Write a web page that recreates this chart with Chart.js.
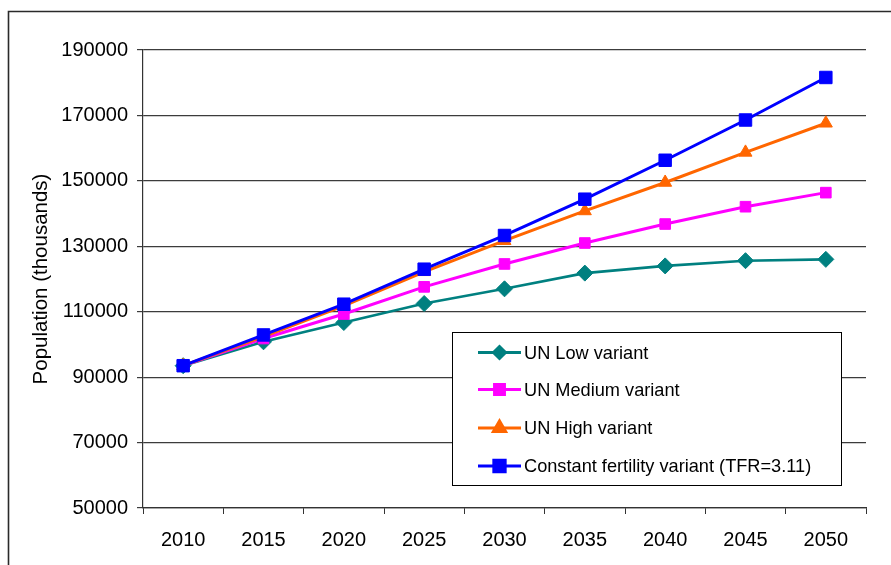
<!DOCTYPE html>
<html>
<head>
<meta charset="utf-8">
<title>Population projections</title>
<script src="https://cdn.jsdelivr.net/npm/chart.js@4/dist/chart.umd.min.js"></script>
<style>
  html, body { margin: 0; padding: 0; background: #fff; }
  #wrap { width: 891px; height: 565px; position: relative; }
</style>
</head>
<body>
<div id="wrap"><canvas id="chart" width="891" height="565"></canvas></div>
<script>
// Projection years (categories)
const years = ['2010', '2015', '2020', '2025', '2030', '2035', '2040', '2045', '2050'];

// Population in thousands, per variant
const unLow = [93500, 100800, 106700, 112500, 117000, 121800, 124000, 125600, 126000];
const unMedium = [93500, 101800, 109300, 117600, 124600, 131000, 136800, 142100, 146400];
const unHigh = [93500, 102400, 111800, 122200, 131700, 140800, 149500, 158700, 167600];
const constantFertility = [93500, 102900, 112300, 123000, 133300, 144400, 156300, 168600, 181600];

// Series names
const seriesNames = ['UN Low variant', 'UN Medium variant', 'UN High variant', 'Constant fertility variant (TFR=3.11)'];

// Value axis
const yMin = 50000;
const yMax = 190000;
const yStep = 20000;

const FONT = "'Liberation Sans', Arial, Helvetica, sans-serif";

// White page with a thin frame along the top and left edges
const framePlugin = {
  id: 'frame',
  beforeDraw(chart) {
    const ctx = chart.ctx;
    ctx.save();
    ctx.fillStyle = '#ffffff';
    ctx.fillRect(0, 0, chart.width, chart.height);
    ctx.strokeStyle = '#2a2a2a';
    ctx.lineWidth = 1.6;
    ctx.beginPath();
    ctx.moveTo(8.5, chart.height + 2);
    ctx.lineTo(8.5, 11.5);
    ctx.lineTo(chart.width + 2, 11.5);
    ctx.stroke();
    ctx.restore();
  }
};

// Boxed legend drawn inside the plot area, lower right
const boxLegendPlugin = {
  id: 'boxLegend',
  afterDraw(chart) {
    const ctx = chart.ctx;
    const box = { x: 452.5, y: 332.5, w: 389, h: 153 };
    ctx.save();
    ctx.fillStyle = '#ffffff';
    ctx.fillRect(box.x, box.y, box.w, box.h);
    ctx.strokeStyle = '#000000';
    ctx.lineWidth = 1;
    ctx.strokeRect(box.x, box.y, box.w, box.h);

    const rowY = [352.5, 389.5, 428, 466];
    const lineX0 = 478, lineX1 = 521, textX = 524;
    ctx.font = '18.2px ' + FONT;
    ctx.textBaseline = 'middle';
    ctx.textAlign = 'left';
    chart.data.datasets.forEach((ds, i) => {
      const y = rowY[i];
      ctx.strokeStyle = ds.borderColor;
      ctx.lineWidth = 3;
      ctx.beginPath();
      ctx.moveTo(lineX0, y);
      ctx.lineTo(lineX1, y);
      ctx.stroke();
      Chart.helpers.drawPoint(ctx, {
        pointStyle: ds.pointStyle,
        radius: ds.legendRadius,
        borderWidth: 1,
        rotation: 0
      }, (lineX0 + lineX1) / 2, y);
      ctx.fillStyle = ds.pointBackgroundColor;
      ctx.strokeStyle = ds.pointBorderColor;
      ctx.lineWidth = 1;
      ctx.fill();
      ctx.stroke();
      ctx.fillStyle = '#000000';
      ctx.fillText(ds.label, textX, y + 1);
    });
    ctx.restore();
  }
};

function series(label, data, color, style, radius, legendRadius, order, width) {
  return {
    label: label,
    data: data,
    borderColor: color,
    backgroundColor: color,
    pointBackgroundColor: color,
    pointBorderColor: color,
    pointBorderWidth: 1,
    pointStyle: style,
    pointRadius: radius,
    pointHoverRadius: radius,
    legendRadius: legendRadius,
    borderWidth: width,
    tension: 0,
    fill: false,
    order: order
  };
}

new Chart(document.getElementById('chart'), {
  type: 'line',
  data: {
    labels: years,
    datasets: [
      series(seriesNames[0], unLow, '#008080', 'rectRot', 8, 6, 3, 2.6),
      series(seriesNames[1], unMedium, '#ff00ff', 'rect', 7.5, 7, 2, 3),
      series(seriesNames[2], unHigh, '#ff6600', 'triangle', 7.5, 7, 1, 3),
      series(seriesNames[3], constantFertility, '#0000ff', 'rect', 8.8, 8, 0, 3)
    ]
  },
  options: {
    responsive: false,
    animation: false,
    devicePixelRatio: 1,
    layout: { padding: { top: 50, right: 25, bottom: 0, left: 0 } },
    plugins: {
      legend: { display: false },
      tooltip: { enabled: false },
      title: { display: false }
    },
    scales: {
      x: {
        type: 'category',
        offset: true,
        grid: {
          offset: true,
          drawOnChartArea: false,
          drawTicks: true,
          tickLength: 6,
          color: '#333333',
          lineWidth: 1
        },
        border: { display: true, color: '#333333', width: 1.2 },
        ticks: {
          color: '#000000',
          font: { family: FONT, size: 20 },
          padding: 14,
          maxRotation: 0,
          autoSkip: false
        },
        afterFit(scale) { scale.height = 57; }
      },
      y: {
        min: yMin,
        max: yMax,
        grid: {
          color: '#3c3c3c',
          lineWidth: 1.2,
          drawTicks: true,
          tickLength: 6
        },
        border: { display: true, color: '#333333', width: 1.2 },
        ticks: {
          stepSize: yStep,
          color: '#000000',
          font: { family: FONT, size: 20 },
          padding: 9,
          callback: (v) => String(v)
        },
        title: {
          display: true,
          text: 'Population (thousands)',
          color: '#000000',
          font: { family: FONT, size: 20.5 },
          padding: { top: 29, bottom: 0 }
        },
        afterFit(scale) { scale.width = 143; }
      }
    }
  },
  plugins: [framePlugin, boxLegendPlugin]
});
</script>
</body>
</html>
